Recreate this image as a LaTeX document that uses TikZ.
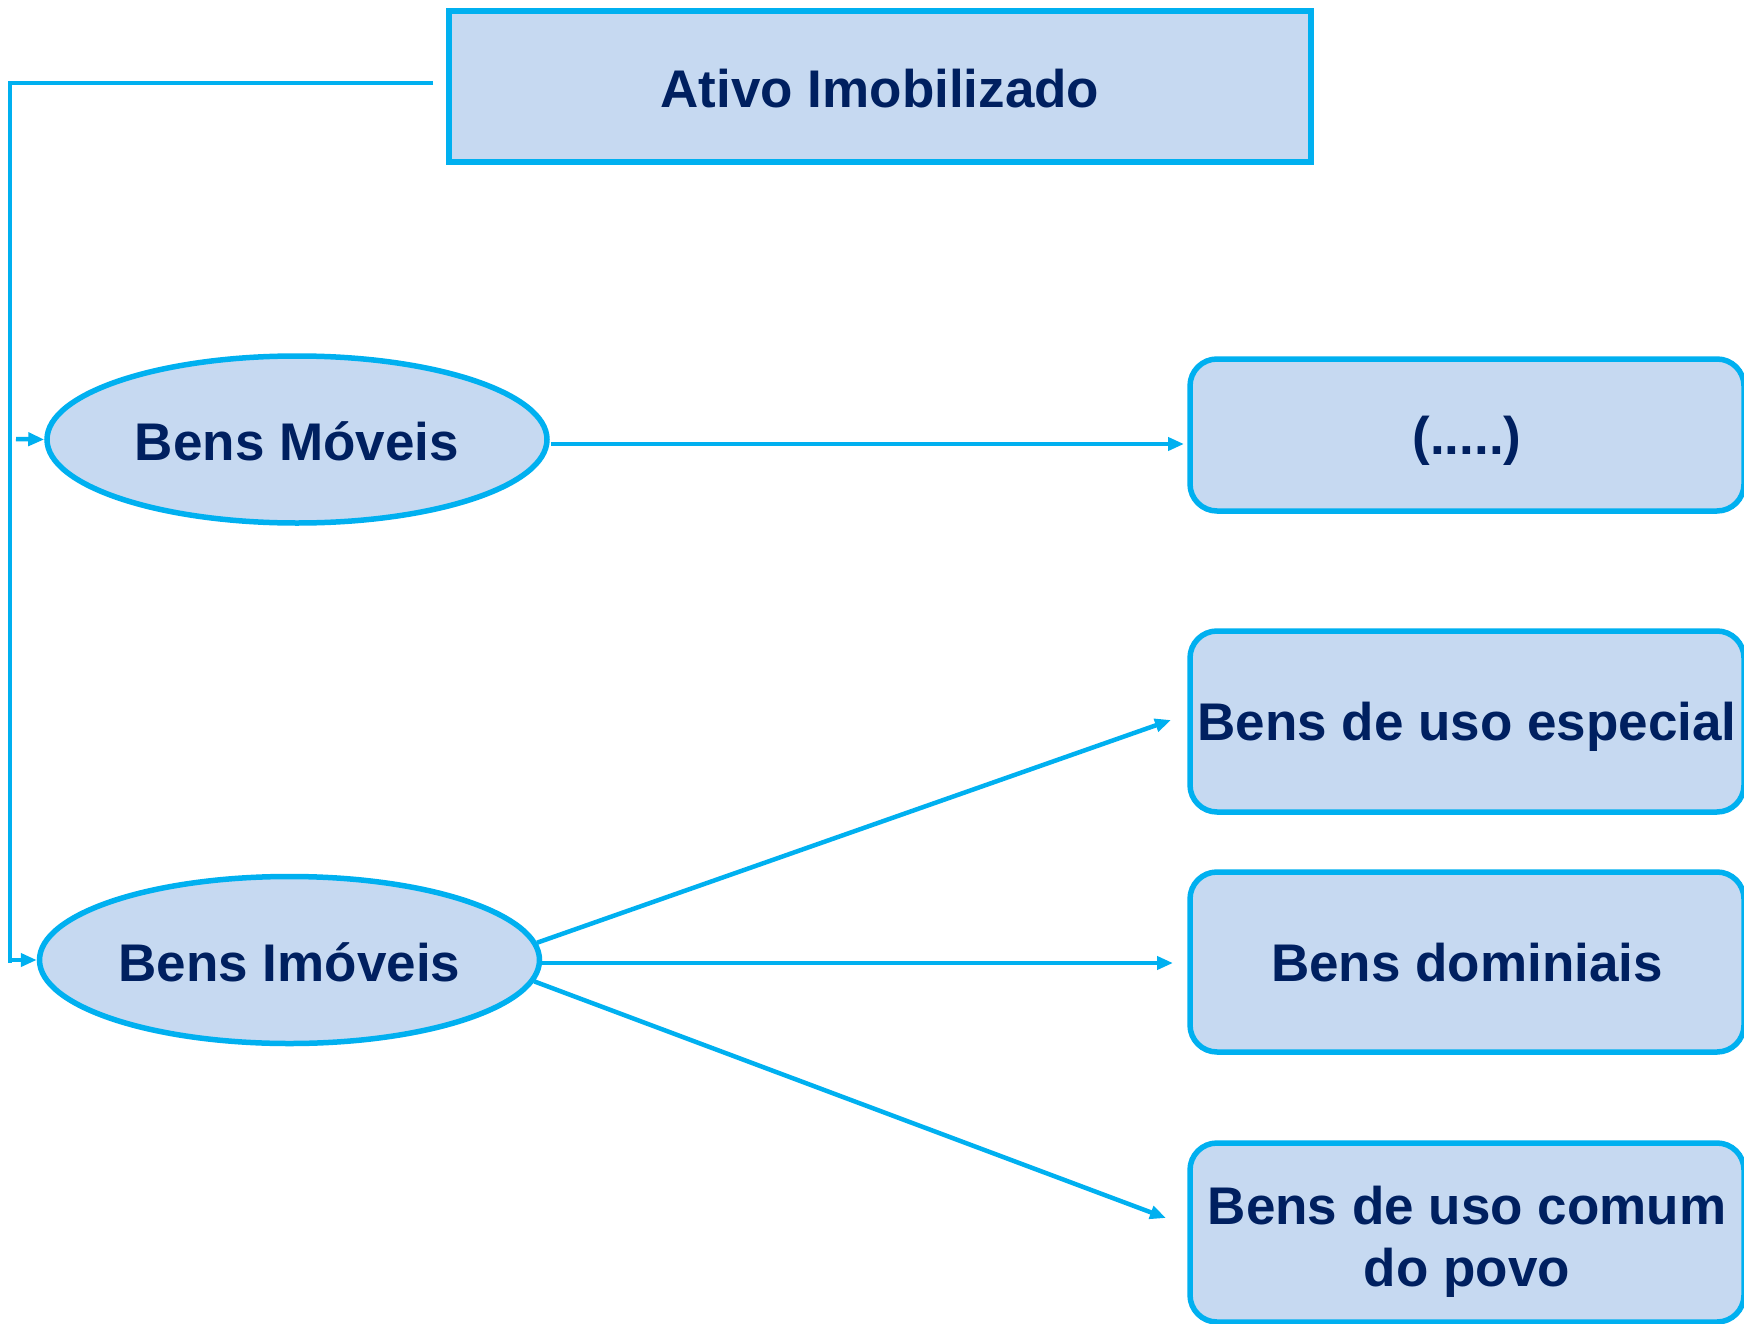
\documentclass[tikz,border=0pt]{standalone}
\usepackage{fontspec}
\setmainfont{Liberation Sans}
\usetikzlibrary{shapes.geometric,arrows.meta}
\definecolor{lineC}{HTML}{00B0F0}
\definecolor{fillC}{HTML}{C6D9F1}
\definecolor{textC}{HTML}{002060}
\newcommand\lowered[2]{\raisebox{-#1}[\height][\depth]{#2}}
\tikzset{
  basebox/.style={draw=lineC, fill=fillC, text=textC, inner sep=0pt,
    font=\fontsize{53}{62}\selectfont\bfseries, align=center},
  topbox/.style={basebox, rectangle, line width=5.5pt, minimum width=862pt, minimum height=151pt},
  ellbox/.style={basebox, ellipse, line width=5.5pt, minimum width=500pt, minimum height=167pt},
  rbox/.style={basebox, rectangle, rounded corners=27pt, line width=5.5pt, minimum width=554pt},
  conn/.style={draw=lineC, line width=4.5pt},
  arr/.style={conn, -{Triangle[length=16pt,width=13pt]}},
}
\begin{document}
\begin{tikzpicture}[x=1pt,y=-1pt]
\clip (0,0) rectangle (1744,1324);
\fill[white] (0,0) rectangle (1744,1324);

\node[topbox] (top) at (880,86.5) {\lowered{2pt}{Ativo Imobilizado}};
\node[ellbox] (mov) at (297,439.5) {\lowered{2pt}{Bens Móveis}};
\node[ellbox] (imm) at (289.5,960) {\lowered{2pt}{Bens Imóveis}};

\node[rbox, minimum height=152pt] (b1) at (1467,435) {\lowered{6pt}{(.....)}};
\node[rbox, minimum height=181pt] (b2) at (1467,721.5) {\lowered{5pt}{Bens de uso especial}};
\node[rbox, minimum height=180pt] (b3) at (1467,962) {\lowered{1pt}{Bens dominiais}};
\node[rbox, minimum height=179pt] (b4) at (1467,1232.5) {\lowered{11pt}{\setlength\tabcolsep{0pt}\begin{tabular}{c}Bens de uso comum\\do povo\end{tabular}}};

\coordinate (tl) at (433,83);
\coordinate (corner) at (10,83);
\coordinate (ms) at (16,439);
\coordinate (s1) at (551,444);
\coordinate (e1) at (1184,444);
\coordinate (s3) at (539,963);
\coordinate (e2) at (1171,720);
\coordinate (e3) at (1173,963);
\coordinate (e4) at (1166,1218);

\draw[conn] (tl) -- (corner) -- (10,963);
\draw[arr] (corner) |- (imm.west);
\draw[arr] (ms) -- (mov.west);
\draw[arr] (s1) -- (e1);
\draw[arr] (imm.4) -- (e2);
\draw[arr] (s3) -- (e3);
\draw[arr] (imm.-5) -- (e4);
\end{tikzpicture}
\end{document}
